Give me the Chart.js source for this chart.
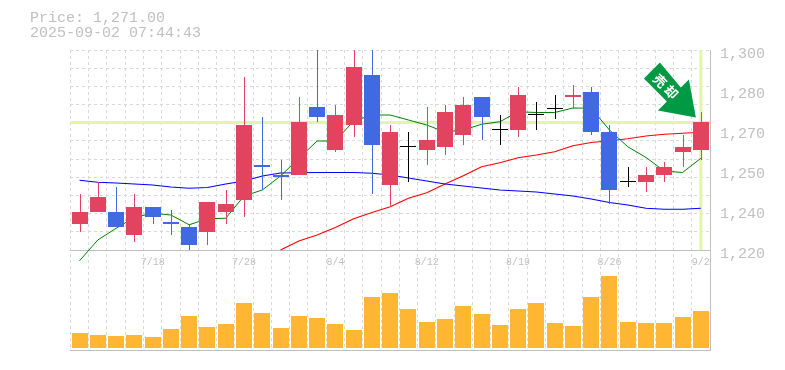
<!DOCTYPE html>
<html>
<head>
<meta charset="utf-8">
<script src="https://cdn.jsdelivr.net/npm/chart.js@4"></script>
<style>
  html, body { margin: 0; padding: 0; background: #fff; }
  #wrap { position: relative; width: 785px; height: 370px; overflow: hidden; }
  #info {
    position: absolute; left: 30px; top: 11px;
    font: 15px/15px "Liberation Mono", monospace; color: #c0c0c0; white-space: pre;
  }
  canvas { display: block; }
</style>
</head>
<body>
<div id="wrap">
  <canvas id="chart" width="785" height="370"></canvas>
  <div id="info">Price: 1,271.00
2025-09-02 07:44:43</div>
</div>
<script>
const dates = ['7/14', '7/15', '7/16', '7/17', '7/18', '7/22', '7/23', '7/24', '7/25', '7/28', '7/29', '7/30', '7/31', '8/1', '8/4', '8/5', '8/6', '8/7', '8/8', '8/12', '8/13', '8/14', '8/15', '8/18', '8/19', '8/20', '8/21', '8/22', '8/25', '8/26', '8/27', '8/28', '8/29', '9/1', '9/2']
const tickDates = ['7/18', '7/28', '8/4', '8/12', '8/19', '8/26', '9/2']
// axis labels sit every 16 yen and print rounded to tens
const priceTicks = [1220, 1236, 1252, 1268, 1284, 1300]

const opens = [1230, 1235, 1235, 1226, 1237, 1231, 1229, 1227, 1235, 1240, 1254, 1250, 1250, 1277, 1260, 1270, 1290, 1246, 1261, 1260, 1261, 1266, 1281, 1268, 1268, 1274, 1276, 1281, 1283, 1267, 1247, 1247, 1250, 1259, 1260]
const closes = [1235, 1241, 1229, 1237, 1233, 1230, 1222, 1239, 1238, 1270, 1253, 1249, 1271, 1273, 1274, 1293, 1262, 1267, 1261, 1264, 1275, 1278, 1273, 1268, 1282, 1274, 1276, 1282, 1267, 1244, 1247, 1250, 1253, 1261, 1271]
const highs = [1242, 1247, 1245, 1242, 1237, 1236, 1230, 1239, 1244, 1289, 1273, 1256, 1281, 1302, 1278, 1302, 1302, 1270, 1267, 1277, 1278, 1281, 1281, 1274, 1285, 1279, 1282, 1286, 1285, 1270, 1253, 1253, 1255, 1266, 1275]
const lows = [1227, 1235, 1229, 1223, 1230, 1226, 1220, 1222, 1230, 1233, 1244, 1240, 1250, 1271, 1259, 1265, 1242, 1237, 1247, 1254, 1258, 1262, 1264, 1262, 1265, 1268, 1272, 1276, 1266, 1238, 1245, 1243, 1247, 1253, 1256]

const maShort = [1215.7, 1224, 1228.7, 1233, 1234.7, 1234, 1230.1, 1232.5, 1232.7, 1241.6, 1244, 1249.6, 1256.7, 1263.6, 1263.6, 1271.6, 1274, 1274, 1272, 1270, 1267.2, 1268, 1270.3, 1271.3, 1275.3, 1275, 1275, 1276.8, 1276.7, 1268, 1261.3, 1257, 1251.6, 1251, 1256.7]
const maMid = [1247.9, 1247.1, 1246.8, 1246.4, 1246, 1245.2, 1244.7, 1245, 1246.4, 1247.6, 1249.6, 1250.8, 1250.9, 1251, 1251, 1251, 1250.7, 1250, 1248.8, 1247.6, 1246.4, 1245.6, 1244.8, 1244, 1243.6, 1243.2, 1242.4, 1241.6, 1240.4, 1239, 1238, 1236.7, 1236.3, 1236.3, 1236.7]
const maLong = [null, null, null, null, null, null, null, null, null, null, null, 1220, 1223.6, 1226, 1229, 1232.5, 1235, 1237.3, 1240.7, 1242.9, 1246.4, 1249.7, 1253.3, 1254.9, 1256.9, 1258, 1259.3, 1261.7, 1263, 1263.7, 1264.5, 1265.6, 1266.3, 1266.7, 1267.1]

const volumes = [14300, 12300, 11300, 12300, 10300, 18300, 31300, 20300, 23300, 44300, 34300, 19300, 31300, 29300, 23300, 17300, 50300, 54300, 38300, 25300, 28300, 41300, 33300, 22300, 38300, 44300, 24300, 21300, 50300, 71300, 25300, 24300, 24300, 30300, 36300]

const lastPrice = 1271
const arrowLabel = '売却'

const UP = '#e2435f'
const DOWN = '#4169e1'
const FLAT = '#000000'
const AXIS = '#c0c0c0'
const GRID = '#d9d9d9'
const CROSS = '#e3f5aa'
const ARROW = '#009944'

const candleColor = (ctx) => {
  const i = ctx.dataIndex
  if (closes[i] > opens[i]) return UP
  if (closes[i] < opens[i]) return DOWN
  return FLAT
}

const lineSet = (data, color, width) => ({
  type: 'line',
  data,
  borderColor: color,
  borderWidth: width,
  pointRadius: 0,
  tension: 0,
  yAxisID: 'y',
  xAxisID: 'x',
  order: 3,
})

// keep the bars on whole pixels so wicks stay one pixel wide
const snapPlugin = {
  id: 'snap',
  afterDatasetsUpdate(chart) {
    chart.data.datasets.forEach((set, i) => {
      if (set.type !== 'bar') return
      const odd = set.barThickness % 2 === 1 ? 0.5 : 0
      chart.getDatasetMeta(i).data.forEach((bar) => {
        bar.x = Math.round(bar.x) + odd
        bar.y = Math.floor(bar.y)
        bar.base = Math.floor(bar.base)
      })
    })
  },
}

// last price cross, placed through the scales
const crossPlugin = {
  id: 'cross',
  beforeDatasetsDraw(chart) {
    const { x, y } = chart.scales
    const { ctx, chartArea } = chart
    const py = y.getPixelForValue(lastPrice)
    const px = x.getPixelForValue(dates.length - 1)
    ctx.save()
    ctx.strokeStyle = CROSS
    ctx.lineWidth = 3
    ctx.beginPath()
    ctx.moveTo(chartArea.left, py)
    ctx.lineTo(chartArea.right, py)
    ctx.moveTo(px, y.getPixelForValue(1300))
    ctx.lineTo(px, y.getPixelForValue(1220))
    ctx.stroke()
    ctx.restore()
  },
}

// signal arrow sits up and left of the last candle
const arrowPlugin = {
  id: 'arrow',
  afterDatasetsDraw(chart) {
    const { x, y } = chart.scales
    const { ctx } = chart
    const px = x.getPixelForValue(dates.length - 1)
    const py = y.getPixelForValue(closes[closes.length - 1])
    ctx.save()
    ctx.translate(px - 5, py - 5)
    ctx.fillStyle = ARROW
    ctx.beginPath()
    ctx.moveTo(0, 0)
    ctx.lineTo(-7, -38)
    ctx.lineTo(-15, -30)
    ctx.lineTo(-36, -55)
    ctx.lineTo(-52, -39)
    ctx.lineTo(-29, -16)
    ctx.lineTo(-38, -7)
    ctx.closePath()
    ctx.fill()
    ctx.translate(-29, -30)
    ctx.rotate(Math.PI / 4)
    ctx.fillStyle = '#ffffff'
    ctx.font = 'bold 13px "Noto Sans CJK JP"'
    ctx.letterSpacing = '3px'
    ctx.textAlign = 'center'
    ctx.textBaseline = 'middle'
    ctx.fillText(arrowLabel, 0, 0)
    ctx.restore()
  },
}

new Chart(document.getElementById('chart'), {
  data: {
    labels: dates,
    datasets: [
      lineSet(maShort, '#008000', 1),
      lineSet(maMid, '#0000ff', 1.1),
      lineSet(maLong, '#ff0000', 1.1),
      {
        type: 'bar',
        data: dates.map((d, i) => [lows[i], highs[i]]),
        backgroundColor: candleColor,
        barThickness: 1,
        inflateAmount: 0,
        grouped: false,
        yAxisID: 'y',
        xAxisID: 'x',
        order: 2,
      },
      {
        type: 'bar',
        data: dates.map((d, i) => [opens[i], closes[i]]),
        backgroundColor: candleColor,
        barThickness: 16,
        inflateAmount: 0,
        minBarLength: 1,
        grouped: false,
        yAxisID: 'y',
        xAxisID: 'x',
        order: 1,
      },
      {
        type: 'bar',
        data: volumes,
        backgroundColor: '#ffb733',
        barThickness: 16,
        inflateAmount: 0,
        grouped: false,
        yAxisID: 'vol',
        xAxisID: 'x',
        order: 1,
      },
    ],
  },
  options: {
    responsive: false,
    animation: false,
    layout: { padding: { left: 70.4, top: 50, bottom: 20, right: 0 } },
    plugins: { legend: { display: false }, tooltip: { enabled: false }, title: { display: false } },
    scales: {
      x: {
        type: 'category',
        offset: true,
        position: 'bottom',
        grid: { offset: true, color: GRID, drawTicks: false },
        border: { color: AXIS, width: 1, dash: [3, 3] },
        ticks: { display: false },
      },
      xLabels: {
        axis: 'x',
        type: 'category',
        labels: dates,
        offset: true,
        position: { y: 1220 },
        grid: { display: false, drawTicks: false },
        border: { color: AXIS, width: 1 },
        ticks: {
          autoSkip: false,
          maxRotation: 0,
          padding: 6,
          color: AXIS,
          font: { family: 'Liberation Mono', size: 10 },
          callback(value, index) {
            return tickDates.includes(dates[index]) ? dates[index] : null
          },
        },
      },
      y: {
        position: 'right',
        min: 1180,
        max: 1300,
        afterBuildTicks(scale) {
          scale.ticks = priceTicks.map((value) => ({ value }))
        },
        afterFit(scale) {
          scale.width = 75
        },
        grid: { display: false, drawTicks: false },
        border: { color: AXIS, width: 1 },
        ticks: {
          padding: 10,
          labelOffset: 4,
          color: AXIS,
          font: { family: 'Liberation Mono', size: 15 },
          callback(value) {
            return (Math.round(value / 10) * 10).toLocaleString('en-US')
          },
        },
      },
      yGrid: {
        position: 'left',
        min: 1180,
        max: 1300,
        afterBuildTicks(scale) {
          // 11 even dashed rows over the price band
          const rows = []
          for (let k = 0; k <= 11; k++) rows.push({ value: 1220 + (k * 80) / 11 })
          scale.ticks = rows
        },
        afterFit(scale) {
          scale.width = 0
        },
        grid: { color: GRID, drawTicks: false },
        border: { display: false, dash: [3, 3] },
        ticks: { display: false },
      },
      vol: {
        axis: 'y',
        display: false,
        min: -2000,
        max: 298000,
      },
    },
  },
  plugins: [snapPlugin, crossPlugin, arrowPlugin],
})
</script>
</body>
</html>
